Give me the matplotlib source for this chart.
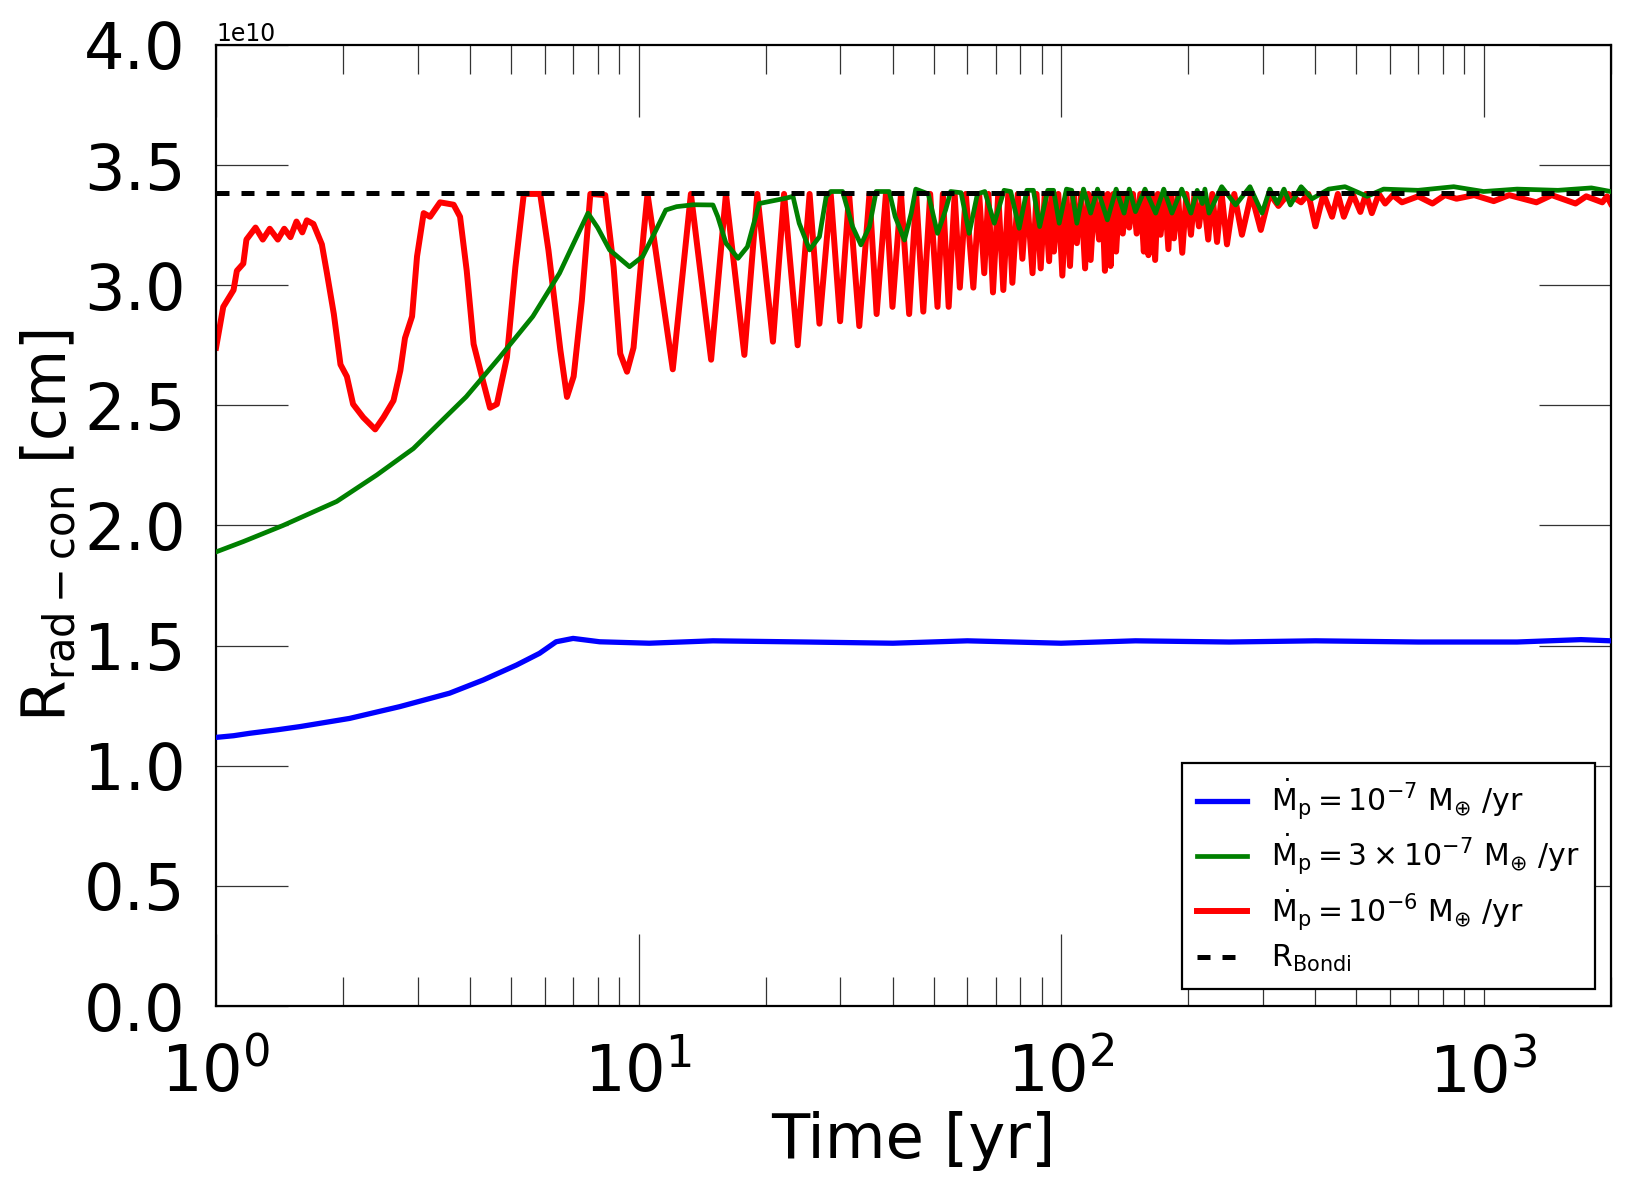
import numpy as np
import matplotlib
matplotlib.use("Agg")
import matplotlib.pyplot as plt

# values (time in yr, radius in 1e10 cm)
blue_t = [1.0, 1.1, 1.2, 1.4, 1.58, 2.07, 2.72, 3.57, 4.29, 5.14, 5.83, 6.38, 7.0, 8.09,
          10.6, 15, 25, 40, 60, 100, 150, 250, 400, 700, 1200, 1700, 2000]
blue_r = [1.118, 1.125, 1.135, 1.15, 1.163, 1.197, 1.246, 1.302, 1.357, 1.419, 1.468, 1.516, 1.53, 1.516,
          1.51, 1.52, 1.515, 1.51, 1.52, 1.51, 1.52, 1.515, 1.52, 1.515, 1.515, 1.525, 1.52]

green_t = [1.0, 1.16, 1.44, 1.93, 2.4, 2.93, 3.91, 4.69, 5.62, 6.5, 7.0, 7.59, 8.0, 8.54, 9.52,
           10.23, 11.0, 11.6, 12.3, 13.5, 15.0, 15.4, 16.1, 17.2, 18.1, 19.3, 22.3, 23.2, 24.0,
           25.4, 26.8, 27.8, 28.5, 30.4, 32.1, 33.6, 35.2, 36.5, 39.2, 40.5, 42.6, 44.2, 45.3,
           48.5, 51, 53.3, 54.8, 58, 60.6, 63.4, 66, 69.5, 73.3, 76, 79.6, 83, 86, 89, 93, 96,
           99, 103, 106, 109, 113, 117.5, 122, 128.7, 135, 141, 145, 150, 158, 167.5, 175, 183,
           193, 203, 210, 216, 219, 224, 240, 259, 280, 299, 312, 325, 337, 349, 370, 393, 430,
           470, 530, 580, 700, 850, 1000, 1200, 1500, 1800, 2000]
green_r = [1.89, 1.933, 2.0, 2.1, 2.21, 2.32, 2.536, 2.70, 2.87, 3.05, 3.17, 3.30, 3.24, 3.147, 3.077,
           3.12, 3.23, 3.313, 3.327, 3.335, 3.334, 3.285, 3.175, 3.112, 3.16, 3.34, 3.362, 3.37, 3.258,
           3.147, 3.202, 3.369, 3.39, 3.39, 3.244, 3.168, 3.244, 3.39, 3.39, 3.285, 3.188, 3.30, 3.40,
           3.38, 3.216, 3.313, 3.39, 3.385, 3.216, 3.38, 3.39, 3.258, 3.395, 3.39, 3.237, 3.395, 3.395, 3.244, 3.395, 3.395,
           3.258, 3.40, 3.395, 3.258, 3.40, 3.30, 3.40, 3.272, 3.40, 3.30, 3.40, 3.306, 3.40, 3.30, 3.40, 3.30,
           3.40, 3.30, 3.395, 3.34, 3.40, 3.30, 3.41, 3.334, 3.41, 3.30, 3.40, 3.34, 3.40, 3.334, 3.41, 3.36, 3.40,
           3.41, 3.37, 3.40, 3.395, 3.41, 3.39, 3.40, 3.395, 3.405, 3.39]

red_t = [1.00, 1.04, 1.10, 1.12, 1.16, 1.18, 1.24, 1.29, 1.34, 1.40, 1.45, 1.50, 1.55, 1.60, 1.64,
         1.70, 1.78, 1.83, 1.90, 1.97, 2.04, 2.11, 2.23, 2.38, 2.49, 2.63, 2.73, 2.80, 2.91, 2.99,
         3.10, 3.21, 3.39, 3.65, 3.78, 3.92, 4.07, 4.30, 4.45, 4.62, 4.88, 5.11, 5.35, 5.85, 6.12,
         6.53, 6.77, 7.02, 7.34, 7.69, 8.34, 8.73, 9.05, 9.39, 9.73, 10.28, 10.5,
         12.05, 13.3, 14.85, 16.1, 17.8, 19.1, 20.8, 22.1, 23.8, 25.4, 26.8, 28.5, 30.0, 31.5,
         33.3, 35.2, 36.6, 38.5, 39.9, 41.8, 43.7, 45.4, 47.2, 49.0, 51.0, 52.5, 54.2, 56.0,
         57.6, 59.5, 62.0, 64.0, 65.8, 67.3, 69.0, 71.0, 73.0, 75.0, 76.7, 79.0, 81.0, 83.0,
         85.6, 87.5, 89.5, 91.5, 93.7, 95.0, 96.2, 98.5, 100.7, 103, 105, 107, 109, 111.5,
         114, 116, 117.5, 120, 123, 125, 127, 129, 131, 133, 135, 137.5, 140, 142.5, 145, 148,
         151, 154, 157, 159, 161, 164, 167, 169.5, 172, 176, 179.5, 182, 185, 189, 193.6, 198,
         203, 207, 212, 217, 223, 228, 234, 240, 247, 257, 268, 282, 297, 312, 327, 345, 370,
         385, 400, 418, 438, 452, 467, 490, 511, 527, 544, 565, 585, 610, 641, 700, 757, 810,
         863, 950, 1057, 1150, 1334, 1450, 1651, 1750, 1910, 1960, 2000]
red_r = [2.74, 2.91, 2.98, 3.06, 3.09, 3.19, 3.24, 3.19, 3.235, 3.19, 3.235, 3.20, 3.265, 3.22, 3.27,
         3.255, 3.17, 3.05, 2.88, 2.67, 2.62, 2.505, 2.45, 2.40, 2.45, 2.52, 2.645, 2.78, 2.87, 3.12,
         3.30, 3.285, 3.345, 3.335, 3.285, 3.06, 2.755, 2.59, 2.49, 2.505, 2.70, 3.075, 3.38, 3.38, 3.145,
         2.73, 2.535, 2.62, 2.935, 3.38, 3.375, 3.075, 2.715, 2.64, 2.74, 3.215, 3.38,
         2.65, 3.38, 2.69, 3.38, 2.71, 3.38, 2.765, 3.38, 2.75, 3.38, 2.84, 3.38, 2.85, 3.38,
         2.83, 3.38, 2.88, 3.38, 2.91, 3.38, 2.88, 3.38, 2.89, 3.38, 2.91, 3.38, 2.91, 3.38,
         2.99, 3.38, 2.99, 3.38, 3.05, 3.38, 2.97, 3.38, 2.98, 3.38, 3.01, 3.38, 3.11, 3.38,
         3.05, 3.38, 3.07, 3.38, 3.10, 3.38, 3.14, 3.38, 3.04, 3.38, 3.08, 3.38, 3.175, 3.38,
         3.07, 3.38, 3.105, 3.38, 3.19, 3.38, 3.06, 3.38, 3.08, 3.38, 3.14, 3.38, 3.215, 3.38, 3.24, 3.38,
         3.215, 3.38, 3.14, 3.38, 3.125, 3.38, 3.105, 3.38, 3.21, 3.38, 3.15, 3.38, 3.195, 3.38, 3.135, 3.38,
         3.21, 3.38, 3.245, 3.38, 3.19, 3.38, 3.18, 3.38, 3.17, 3.38, 3.21, 3.38, 3.23, 3.38, 3.33, 3.38, 3.345,
         3.38, 3.245, 3.38, 3.285, 3.38, 3.285, 3.38, 3.305, 3.38, 3.30, 3.38, 3.34, 3.375, 3.345, 3.37, 3.34, 3.375,
         3.36, 3.375, 3.35, 3.375, 3.345, 3.375, 3.34, 3.37, 3.345, 3.37, 3.34]

r_bondi = 3.385
scale = 1e10

labels = [r'$\mathrm{\dot{M}_p}=10^{-7}\ \mathrm{M_{\oplus}\ /yr}$',
          r'$\mathrm{\dot{M}_p}=3\times10^{-7}\ \mathrm{M_{\oplus}\ /yr}$',
          r'$\mathrm{\dot{M}_p}=10^{-6}\ \mathrm{M_{\oplus}\ /yr}$',
          r'$\mathrm{R_{Bondi}}$']


def main():
    fig = plt.figure(figsize=(16.27, 11.83), dpi=100)
    ax = fig.add_axes([0.1328, 0.1496, 0.8572, 0.8124])

    l1, = ax.plot(blue_t, np.array(blue_r) * scale, color='b', lw=3.8, zorder=3)
    l2, = ax.plot(green_t, np.array(green_r) * scale, color='g', lw=3.4, zorder=3)
    l3, = ax.plot(red_t, np.array(red_r) * scale, color='r', lw=4.3, zorder=2)
    l4 = ax.axhline(r_bondi * scale, color='k', lw=3.6, ls=(0, (2.6, 2.4)), zorder=4)

    ax.set_xscale('log')
    ax.set_xlim(1, 2000)
    ax.set_ylim(0, 4e10)
    ax.set_yticks(np.arange(0, 4.01e10, 0.5e10))

    ax.tick_params(which='both', direction='in', top=True, right=True,
                   labelsize=46, pad=22, color='#333333')
    ax.tick_params(which='major', length=52, width=0.9)
    ax.tick_params(which='minor', length=21, width=0.9)
    ax.tick_params(axis='x', pad=26)
    for s in ax.spines.values():
        s.set_linewidth(1.6)
    ax.yaxis.get_offset_text().set_fontsize(17)

    ax.set_xlabel('Time [yr]', fontsize=45, labelpad=4)
    ax.set_ylabel(r'$\mathrm{R_{rad-con}}$ [cm]', fontsize=43, labelpad=3)

    leg = ax.legend([l1, l2, l3, l4], labels, loc='lower right',
                    bbox_to_anchor=(0.9885, 0.0177), borderaxespad=0,
                    fontsize=21.5, handlelength=1.7, labelspacing=0.35,
                    fancybox=False, framealpha=1, borderpad=0.5, handletextpad=0.8)
    leg.get_frame().set_edgecolor('k')
    leg.get_frame().set_linewidth(1.6)

    fig.savefig('out.png', dpi=100)


if __name__ == "__main__":
    main()
